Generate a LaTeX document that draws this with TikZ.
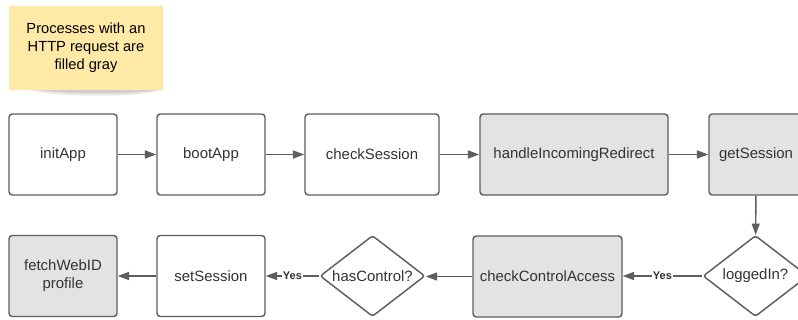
\documentclass[tikz,border=0pt]{standalone}
\usepackage{fontspec}
\setmainfont{Liberation Sans}
\usetikzlibrary{shapes.geometric,arrows.meta}
\definecolor{strokegray}{HTML}{5E5E5E}
\definecolor{fillgray}{HTML}{E3E3E3}
\definecolor{notey}{HTML}{FFE9A6}
\definecolor{txt}{HTML}{333333}
\tikzset{
  proc/.style={draw=strokegray, line width=1.1pt, rounded corners=2.5pt, fill=white,
    minimum height=81*0.75pt, inner sep=2pt, align=center, text=txt,
    font=\fontsize{11.2pt}{13.5pt}\selectfont},
  httpproc/.style={proc, fill=fillgray},
  decision/.style={draw=strokegray, line width=1.1pt, diamond, rounded corners=2pt, fill=white,
    minimum width=105*0.75pt, minimum height=81*0.75pt, inner sep=-6pt, text=txt,
    font=\fontsize{11.2pt}{13.5pt}\selectfont},
  flow/.style={draw=strokegray, line width=1.1pt, -{Triangle[length=8.5pt,width=6pt]}},
  yeslabel/.style={fill=white, inner sep=0.8pt, text=txt, font=\fontsize{8.3pt}{10pt}\selectfont\bfseries},
  note/.style={fill=notey, align=center, text=black, inner sep=0pt,
    minimum width=154*0.75pt, minimum height=84*0.75pt,
    font=\fontsize{11pt}{13.6pt}\selectfont},
}
\begin{document}
\begin{tikzpicture}[x=0.75pt,y=-0.75pt]
\clip (0,0) rectangle (798,320);
\fill[white] (0,0) rectangle (798,320);
% note shadow
\fill[black!30, opacity=0.3] (24,89) .. controls (60,98) and (140,98) .. (164,89) -- cycle;
\fill[black!40, opacity=0.3] (34,89) .. controls (60,95) and (140,95) .. (160,89) -- cycle;
\node[note] (note) at (86,48) {Processes with an\\HTTP request are\\filled gray};
% top row
\node[proc, minimum width=108*0.75pt] (init) at (63,154.5) {initApp};
\node[proc, minimum width=108*0.75pt] (boot) at (211,154.5) {bootApp};
\node[proc, minimum width=134*0.75pt] (check) at (372,154.5) {checkSession};
\node[httpproc, minimum width=188*0.75pt] (handle) at (574,154.5) {handleIncomingRedirect};
\node[httpproc, minimum width=94*0.75pt] (getsess) at (756,154.5) {getSession};
% bottom row
\node[decision] (logged) at (755.5,276) {loggedIn?};
\node[httpproc, minimum width=149*0.75pt] (cca) at (547.5,276.5) {checkControlAccess};
\node[decision] (hasctl) at (372.5,276) {hasControl?};
\node[proc, minimum width=108*0.75pt] (setsess) at (211,276) {setSession};
\node[httpproc, minimum width=108*0.75pt] (fetch) at (63,276) {fetchWebID\\profile};
% connectors
\draw[flow] (init) -- (boot);
\draw[flow] (boot) -- (check);
\draw[flow] (check) -- (handle);
\draw[flow] (handle) -- (getsess);
\draw[flow] (getsess) -- (logged);
\draw[flow] (logged.west) -- node[yeslabel] {Yes} (cca.east |- logged.west);
\draw[flow] (cca.west) -- (hasctl.east |- cca.west);
\draw[flow] (hasctl.west) -- node[yeslabel] {Yes} (setsess.east |- hasctl.west);
\draw[flow] (setsess) -- (fetch);
\end{tikzpicture}
\end{document}
